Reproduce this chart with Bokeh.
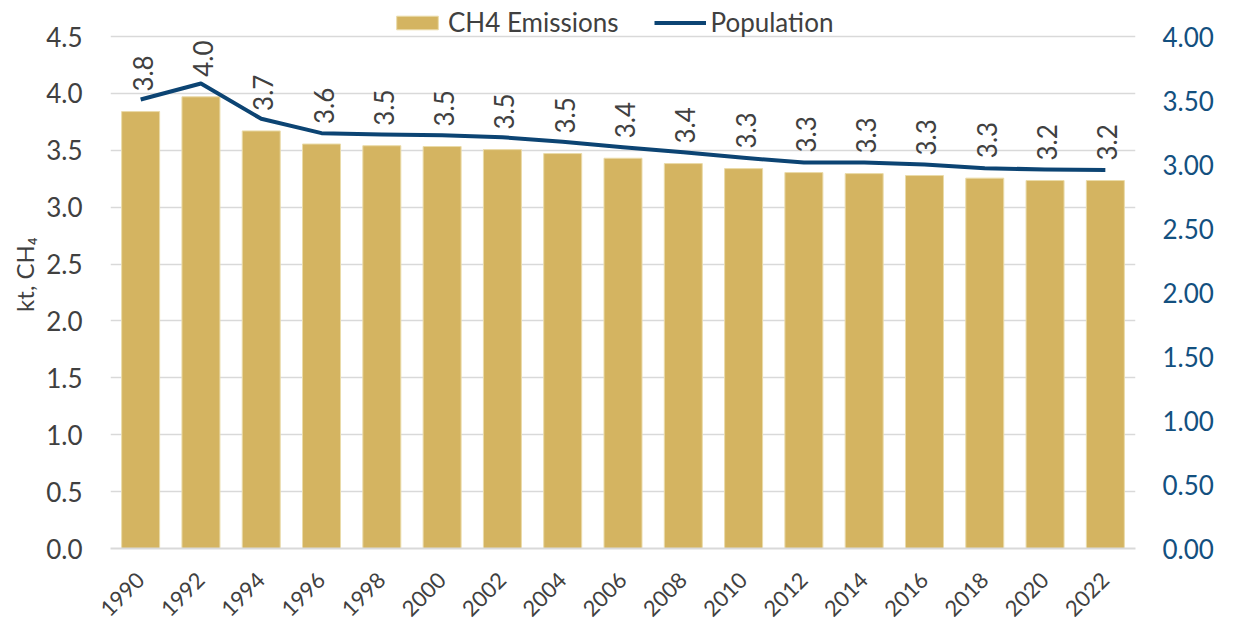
import math
from bokeh.plotting import figure
from bokeh.models import (FactorRange, Range1d, LinearAxis, FixedTicker, NumeralTickFormatter,
                          Legend, LegendItem, ColumnDataSource, Title)
from bokeh.core.properties import value
from bokeh.embed import file_html
from bokeh.resources import INLINE

years = ["1990", "1992", "1994", "1996", "1998", "2000", "2002", "2004", "2006",
         "2008", "2010", "2012", "2014", "2016", "2018", "2020", "2022"]
ch4_emissions = [3.84, 3.97, 3.67, 3.555, 3.54, 3.533, 3.506, 3.471, 3.43,
                 3.383, 3.339, 3.304, 3.295, 3.278, 3.255, 3.234, 3.234]
population = [3.508, 3.633, 3.357, 3.245, 3.234, 3.229, 3.213, 3.177, 3.135,
              3.096, 3.052, 3.016, 3.016, 3.0, 2.971, 2.961, 2.958]
left_ticks = [0.0, 0.5, 1.0, 1.5, 2.0, 2.5, 3.0, 3.5, 4.0, 4.5]
right_ticks = [0.0, 0.5, 1.0, 1.5, 2.0, 2.5, 3.0, 3.5, 4.0]

FONT = "Lato"
GREY = "#404040"
GOLD = "#d4b461"
NAVY = "#0c4473"
BLUE_TXT = "#13507f"

# frame spans the full height above the x axis (room for the legend);
# axis ranges extended so 4.5 (left) and 4.00 (right) sit 36px below the top
FRAME_H = 548
LEFT_TOP = FRAME_H / (512 / 4.5)
RIGHT_TOP = FRAME_H / (512 / 4.0)

src = ColumnDataSource(dict(
    year=years,
    ch4=ch4_emissions,
    pop=population,
    lbl=["%.1f" % v for v in ch4_emissions],
))

p = figure(width=1226, height=630, output_backend="svg", toolbar_location=None,
           x_range=FactorRange(*years, range_padding=0),
           y_range=Range1d(0, LEFT_TOP),
           min_border_left=110, min_border_right=91, min_border_top=0, min_border_bottom=82)
p.outline_line_color = None
p.extra_y_ranges = {"pop": Range1d(0, RIGHT_TOP)}

bars = p.vbar(x="year", top="ch4", width=0.63, source=src, fill_color=GOLD,
              line_color="#eadba9", line_width=1)
line = p.line(x="year", y="pop", source=src, y_range_name="pop", line_color=NAVY,
              line_width=4, line_join="round")

p.text(x="year", y="ch4", text="lbl", source=src, angle=math.pi / 2,
       text_align="left", text_baseline="middle", y_offset=-20, x_offset=2,
       text_font=value(FONT), text_font_size="26px", text_color=GREY)

# left axis
ya = p.yaxis[0]
ya.ticker = FixedTicker(ticks=left_ticks)
ya.formatter = NumeralTickFormatter(format="0.0")
ya.axis_line_color = None
ya.major_tick_line_color = None
ya.minor_tick_line_color = None
ya.major_tick_out = 0
ya.major_label_text_font = FONT
ya.major_label_text_font_size = "26px"
ya.major_label_text_color = GREY
ya.major_label_standoff = 28

ytitle = Title(text="kt, CH₄", align="center", offset=-30, standoff=10,
               text_font=FONT, text_font_size="24px", text_font_style="normal",
               text_color=GREY)
p.add_layout(ytitle, "left")

# right axis
ra = LinearAxis(y_range_name="pop", ticker=FixedTicker(ticks=right_ticks),
                formatter=NumeralTickFormatter(format="0.00"))
ra.axis_line_color = None
ra.major_tick_line_color = None
ra.minor_tick_line_color = None
ra.major_tick_out = 0
ra.major_label_text_font = FONT
ra.major_label_text_font_size = "26px"
ra.major_label_text_color = BLUE_TXT
ra.major_label_standoff = 27
p.add_layout(ra, "right")

# bottom axis
xa = p.xaxis[0]
xa.axis_line_color = "#d9d9d9"
xa.axis_line_width = 2
xa.major_tick_line_color = None
xa.minor_tick_line_color = None
xa.major_tick_out = 0
xa.major_label_orientation = math.pi / 4
xa.major_label_text_font = FONT
xa.major_label_text_font_size = "22px"
xa.major_label_text_color = GREY
xa.major_label_standoff = 28

p.xgrid.grid_line_color = None
p.ygrid.ticker = FixedTicker(ticks=left_ticks)
p.ygrid.grid_line_color = "#d9d9d9"
p.ygrid.grid_line_width = 1.5

legend = Legend(items=[LegendItem(label="CH4 Emissions", renderers=[bars]),
                       LegendItem(label="Population", renderers=[line])],
                location=(281, 510), orientation="horizontal",
                glyph_width=52, glyph_height=17, label_standoff=5, spacing=35,
                padding=0, margin=0, border_line_color=None, background_fill_alpha=0,
                label_text_font=FONT, label_text_font_size="26px", label_text_color=GREY)
p.add_layout(legend, "center")

open("out.html", "w").write(file_html(p, INLINE))
